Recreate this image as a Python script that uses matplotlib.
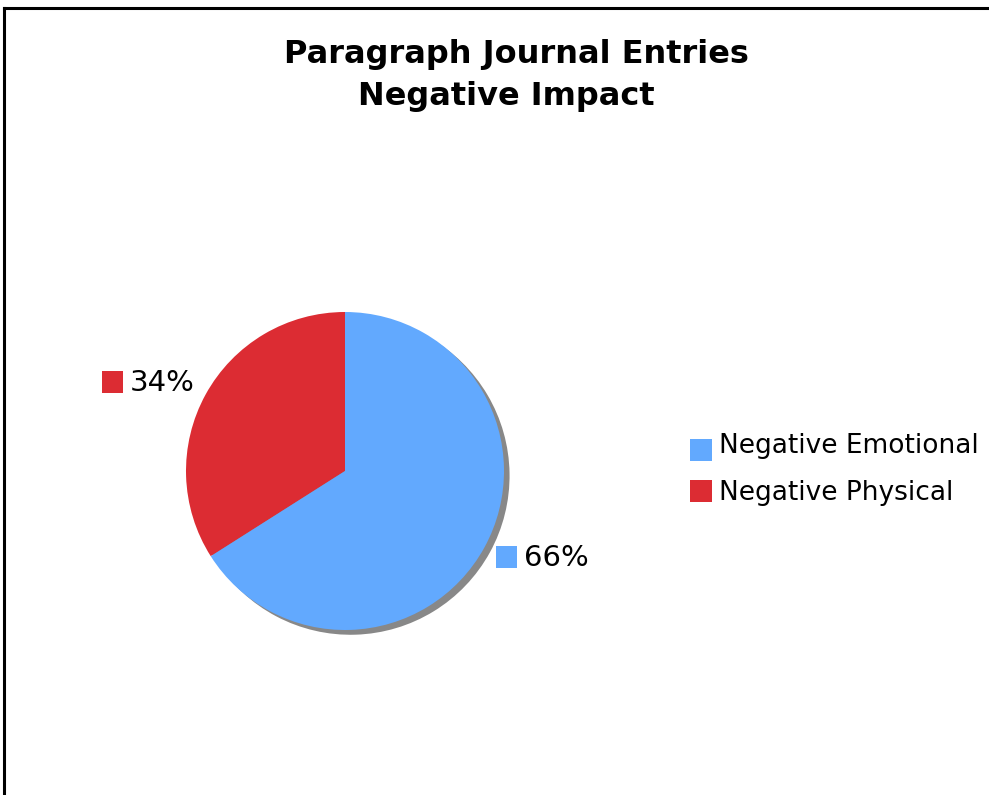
import matplotlib
matplotlib.use("Agg")
import matplotlib.pyplot as plt
from matplotlib.patches import Rectangle
from matplotlib.lines import Line2D

# Data
categories = ["Negative Emotional", "Negative Physical"]
values = [66, 34]
colors = ["#62A9FE", "#DC2C33"]
title_lines = ["Paragraph Journal Entries", "Negative Impact"]

W, H = 989, 795
fig = plt.figure(figsize=(W / 100, H / 100), dpi=100)
fig.patch.set_facecolor("white")

def fx(px):
    return px / W

def fy(py):
    return 1 - py / H

# Border (left and top)
fig.add_artist(Line2D([fx(4), fx(4)], [fy(8), fy(H + 5)], color="black", lw=2.2))
fig.add_artist(Line2D([fx(4), fx(W + 5)], [fy(8), fy(8)], color="black", lw=2.2))

# Title
fig.text(fx(516), fy(55), title_lines[0], ha="center", va="center",
         fontsize=23, fontweight="bold", family="DejaVu Sans")
fig.text(fx(506), fy(97), title_lines[1], ha="center", va="center",
         fontsize=23, fontweight="bold", family="DejaVu Sans")

# Pie axes
cx, cy, r = 345, 471, 159
ax = fig.add_axes([fx(cx - r), fy(cy + r * 1.05), 2.05 * r / W, 2.05 * r / H])
ax.set_aspect("equal")
ax.axis("off")

# draw physical first counterclockwise from top
order_vals = [values[1], values[0]]
order_cols = [colors[1], colors[0]]
ax.pie(order_vals, colors=["#888888", "#888888"], startangle=90, counterclock=True,
       radius=1.0, center=(0.035, -0.03), frame=False,
       wedgeprops=dict(linewidth=0))
ax.pie(order_vals, colors=order_cols, startangle=90, counterclock=True,
       radius=1.0, center=(0, 0), frame=False,
       wedgeprops=dict(linewidth=0))
ax.set_xlim(-1, 1.05)
ax.set_ylim(-1.05, 1)
ax.set_aspect("equal")
ax.axis("off")

# Data labels with color squares
def label(sq_x, sq_y, col, txt):
    fig.add_artist(Rectangle((fx(sq_x), fy(sq_y + 22)), 21 / W, 22 / H,
                             transform=fig.transFigure, facecolor=col, edgecolor="none"))
    fig.text(fx(sq_x + 28), fy(sq_y + 12), txt, ha="left", va="center",
             fontsize=21, family="DejaVu Sans")

label(102, 371, colors[1], f"{values[1]}%")
label(496, 546, colors[0], f"{values[0]}%")

# Legend
sq_tops = [439, 480]
baselines = [453, 500]
for cat, col, t, b in zip(categories, colors, sq_tops, baselines):
    fig.add_artist(Rectangle((fx(690), fy(t + 22)), 22 / W, 22 / H,
                             transform=fig.transFigure, facecolor=col, edgecolor="none"))
    fig.text(fx(719), fy(b), cat, ha="left", va="baseline",
             fontsize=19, family="DejaVu Sans")

fig.savefig("out.png", dpi=100, facecolor="white")
